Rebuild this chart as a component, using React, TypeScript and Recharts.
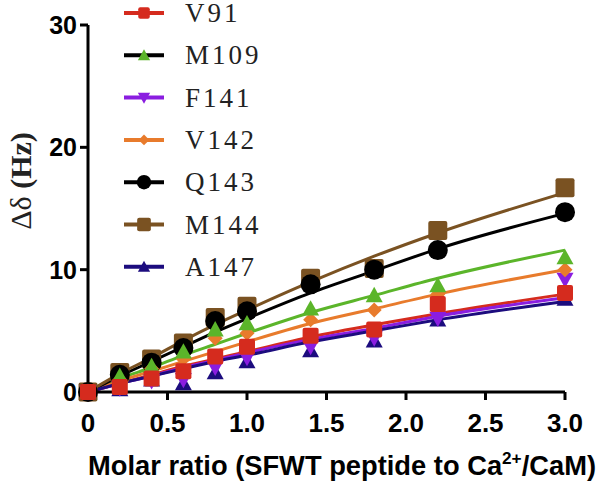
import { ComposedChart, Line, XAxis, YAxis, Legend, Label } from "recharts";

// molar ratio (SFWT peptide : Ca2+/CaM)
const ratio = [0, 0.2, 0.4, 0.6, 0.8, 1.0, 1.4, 1.8, 2.2, 3.0];

// measured shifts (markers)
const v91 = [0, 0.4, 1.1, 1.7, 2.9, 3.7, 4.6, 5.1, 7.2, 8.1];
const m109 = [0, 1.3, 2.1, 3.3, 5.1, 5.6, 6.8, 7.9, 8.7, 11.0];
const f141 = [0, 0.3, 0.9, 1.0, 2.0, 2.8, 3.7, 4.4, 6.0, 9.2];
const v142 = [0, 1.0, 1.9, 2.7, 4.4, 4.8, 5.9, 6.7, 8.0, 10.0];
const q143 = [0, 1.4, 2.4, 3.6, 5.8, 6.6, 8.8, 10.0, 11.6, 14.7];
const m144 = [0, 1.6, 2.7, 4.0, 6.1, 7.0, 9.3, 10.1, 13.2, 16.7];
const a147 = [0, 0.2, 1.0, 0.7, 1.6, 2.5, 3.4, 4.2, 5.9, 7.6];

// fitted curves at the same ratios
const v91Fit = [0, 0.7, 1.4, 2.1, 2.7, 3.3, 4.5, 5.5, 6.4, 8.0];
const m109Fit = [0, 1.1, 2.0, 3.0, 3.9, 4.8, 6.5, 7.9, 9.3, 11.6];
const f141Fit = [0, 0.7, 1.3, 2.0, 2.6, 3.2, 4.3, 5.2, 6.2, 7.7];
const v142Fit = [0, 0.9, 1.7, 2.5, 3.3, 4.1, 5.6, 6.8, 8.0, 10.0];
const q143Fit = [0, 1.3, 2.5, 3.7, 4.9, 6.0, 8.1, 9.9, 11.7, 14.6];
const m144Fit = [0, 1.5, 2.8, 4.2, 5.5, 6.7, 9.0, 11.1, 13.0, 16.3];
const a147Fit = [0, 0.7, 1.3, 1.9, 2.5, 3.0, 4.1, 5.0, 5.9, 7.4];

const xTicks = [0, 0.5, 1.0, 1.5, 2.0, 2.5, 3.0];
const yTicks = [0, 10, 20, 30];

const series = [
  { key: "v91", name: "V91", color: "#d52b1e", legendLine: "#d52b1e", shape: "square", size: 16, points: v91, fit: v91Fit },
  { key: "m109", name: "M109", color: "#5bb52a", legendLine: "#000000", shape: "triangle", size: 17, points: m109, fit: m109Fit },
  { key: "f141", name: "F141", color: "#8a1de0", legendLine: "#8a1de0", shape: "triangleDown", size: 17, points: f141, fit: f141Fit },
  { key: "v142", name: "V142", color: "#e87b2c", legendLine: "#e87b2c", shape: "diamond", size: 15, points: v142, fit: v142Fit },
  { key: "q143", name: "Q143", color: "#000000", legendLine: "#000000", shape: "circle", size: 20, points: q143, fit: q143Fit },
  { key: "m144", name: "M144", color: "#7a5222", legendLine: "#7a5222", shape: "square", size: 19, points: m144, fit: m144Fit },
  { key: "a147", name: "A147", color: "#1c0c7e", legendLine: "#1c0c7e", shape: "triangle", size: 17, points: a147, fit: a147Fit },
];

// drawing order of the markers, bottom to top
const markerOrder = ["m144", "q143", "a147", "f141", "v142", "m109", "v91"];

const data = ratio.map((x, i) => {
  const row: Record<string, number> = { x };
  series.forEach((s) => {
    row[s.key] = s.points[i];
    row[s.key + "Fit"] = s.fit[i];
  });
  return row;
});

function Marker({ cx, cy, shape, size, color }: any) {
  if (cx == null || cy == null) return null;
  const h = size / 2;
  if (shape === "square")
    return <rect x={cx - h} y={cy - h} width={size} height={size} rx={2} fill={color} />;
  if (shape === "circle") return <circle cx={cx} cy={cy} r={h} fill={color} />;
  if (shape === "diamond")
    return <polygon points={`${cx},${cy - h} ${cx + h},${cy} ${cx},${cy + h} ${cx - h},${cy}`} fill={color} />;
  if (shape === "triangle")
    return <polygon points={`${cx},${cy - h} ${cx + h},${cy + h * 0.8} ${cx - h},${cy + h * 0.8}`} fill={color} />;
  return <polygon points={`${cx},${cy + h} ${cx + h},${cy - h * 0.8} ${cx - h},${cy - h * 0.8}`} fill={color} />;
}

function LegendBox() {
  return (
    <svg width={200} height={300} style={{ overflow: "visible" }}>
      {series.map((s, i) => {
        const y = 11 + i * 42.3;
        return (
          <g key={s.key}>
            <line x1={6} x2={46} y1={y} y2={y} stroke={s.legendLine} strokeWidth={4} />
            <Marker cx={26} cy={y} shape={s.shape} size={s.size * 0.72} color={s.color} />
            <text
              x={67}
              y={y + 9}
              fontFamily="Liberation Serif"
              fontSize={27}
              letterSpacing={3}
              fill="#222"
            >
              {s.name}
            </text>
          </g>
        );
      })}
    </svg>
  );
}

function XTitle() {
  return (
    <text
      x={88}
      y={475}
      textLength={508}
      lengthAdjust="spacingAndGlyphs"
      fontFamily="Liberation Sans"
      fontWeight="bold"
      fontSize={27}
      fill="#000"
    >
      Molar ratio (SFWT peptide to Ca
      <tspan dy={-11} fontSize={17}>2+</tspan>
      <tspan dy={11}>/CaM)</tspan>
    </text>
  );
}

function YTitle() {
  return (
    <text
      transform="translate(31,181) rotate(-90)"
      textAnchor="middle"
      fontFamily="Liberation Serif"
      fontSize={30}
      fill="#222"
    >
      Δδ <tspan fontWeight="bold">(Hz)</tspan>
    </text>
  );
}

const xTickStyle = { fontFamily: "Liberation Sans", fontWeight: "bold", fontSize: 26, fill: "#000" };
const yTickStyle = { fontFamily: "Liberation Sans", fontWeight: "bold", fontSize: 25, fill: "#000" };

export default function App() {
  return (
    <div style={{ position: "absolute", left: 0, top: 0, background: "#fff" }}>
      <ComposedChart
        width={600}
        height={483}
        data={data}
        margin={{ top: 25, right: 35, bottom: 0, left: 0 }}
      >
        <XAxis
          dataKey="x"
          type="number"
          domain={[0, 3]}
          ticks={xTicks}
          tickFormatter={(v: number) => (v === 0 ? "0" : v.toFixed(1))}
          height={91}
          axisLine={{ stroke: "#000", strokeWidth: 3 }}
          tickLine={{ stroke: "#000", strokeWidth: 3 }}
          tickSize={8}
          tick={xTickStyle}
          tickMargin={14}
        >
          <Label content={<XTitle />} />
        </XAxis>
        <YAxis
          type="number"
          domain={[0, 30]}
          ticks={yTicks}
          width={88}
          axisLine={{ stroke: "#000", strokeWidth: 3 }}
          tickLine={{ stroke: "#000", strokeWidth: 3 }}
          tickSize={8}
          tick={yTickStyle}
          tickMargin={3}
        >
          <Label content={<YTitle />} />
        </YAxis>
        <Legend
          layout="vertical"
          align="center"
          verticalAlign="middle"
          wrapperStyle={{ left: 118, top: 2, width: 200, height: 300 }}
          content={<LegendBox />}
        />
        {series.map((s) => (
          <Line
            key={s.key + "Fit"}
            dataKey={s.key + "Fit"}
            type="monotone"
            stroke={s.color}
            strokeWidth={3}
            dot={false}
            activeDot={false}
            legendType="none"
            isAnimationActive={false}
          />
        ))}
        {markerOrder.map((k) => {
          const s = series.find((d) => d.key === k)!;
          return (
            <Line
              key={k}
              dataKey={k}
              name={s.name}
              stroke="none"
              dot={(p: any) => (
                <Marker key={k + p.index} cx={p.cx} cy={p.cy} shape={s.shape} size={s.size} color={s.color} />
              )}
              activeDot={false}
              isAnimationActive={false}
            />
          );
        })}
      </ComposedChart>
    </div>
  );
}
